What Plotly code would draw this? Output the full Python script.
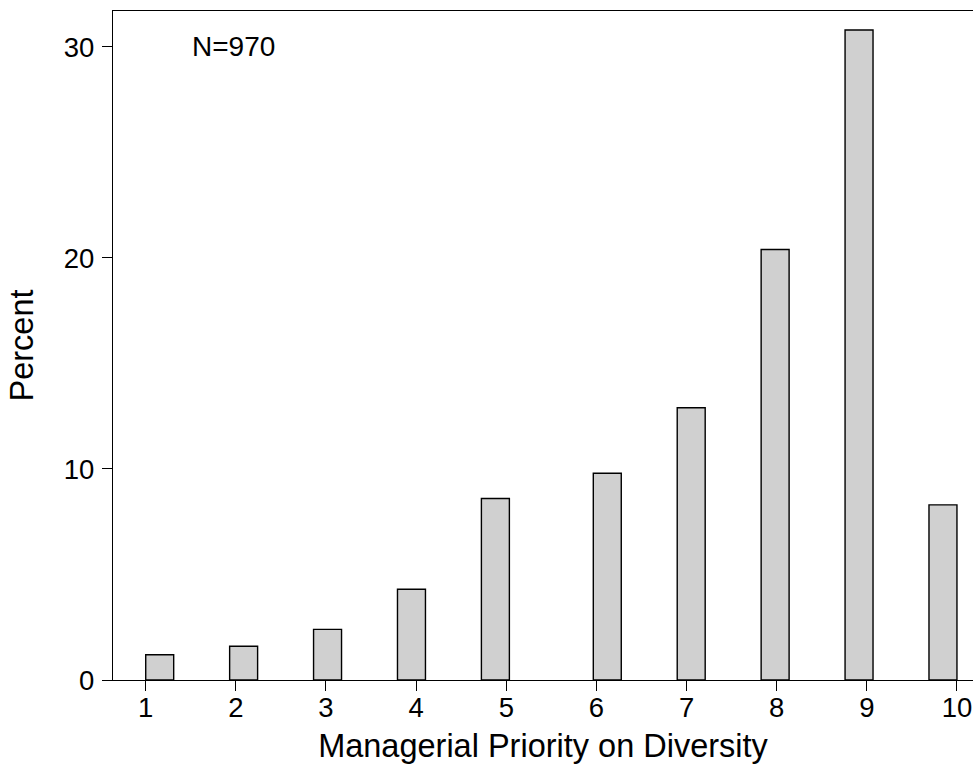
import plotly.graph_objects as go

# Data (percent of N=970 respondents per score)
scores = [1, 2, 3, 4, 5, 6, 7, 8, 9, 10]
percent = [1.2, 1.6, 2.4, 4.3, 8.6, 9.8, 12.9, 20.4, 30.8, 8.3]
x_ticks = [1, 2, 3, 4, 5, 6, 7, 8, 9, 10]
y_ticks = [0, 10, 20, 30]

# Histogram binning (29 bins from min to max, as in the source)
n_bins = 29
lo, hi = min(scores), max(scores)
bw = (hi - lo) / n_bins
centers = []
for s in scores:
    k = min(int((s - lo) / bw + 1e-9), n_bins - 1)
    centers.append(lo + (k + 0.5) * bw)

FONT = "Liberation Sans, Arial, Helvetica, sans-serif"

fig = go.Figure(
    go.Bar(
        x=centers,
        y=percent,
        width=bw,
        marker=dict(color="#d0d0d0", line=dict(color="black", width=1.4)),
    )
)

fig.add_annotation(
    x=1.49, y=30, xref="x", yref="y", text="N=970", showarrow=False,
    xanchor="left", yanchor="middle", font=dict(size=28, color="black", family=FONT),
)

fig.update_layout(
    width=973, height=768,
    margin=dict(l=113, r=0, t=11, b=88),
    paper_bgcolor="white", plot_bgcolor="white",
    showlegend=False,
    font=dict(family=FONT, color="black", size=28),
    xaxis=dict(
        range=[0.637, 10.178],
        tickmode="array", tickvals=x_ticks, ticktext=[str(v) for v in x_ticks],
        ticks="outside", ticklen=10, tickwidth=1.4, tickcolor="black",
        showline=True, linecolor="black", linewidth=1.4, mirror=True,
        showgrid=False, zeroline=False,
        tickfont=dict(size=27.5),
        ticklabelstandoff=-7,
        title=dict(text="Managerial Priority on Diversity", font=dict(size=32.5), standoff=12),
    ),
    yaxis=dict(
        range=[0, 31.7],
        tickmode="array", tickvals=y_ticks, ticktext=[str(v) for v in y_ticks],
        ticks="outside", ticklen=10, tickwidth=1.4, tickcolor="black",
        showline=True, linecolor="black", linewidth=1.4, mirror=False,
        showgrid=False, zeroline=False,
        tickfont=dict(size=27.5),
        ticklabelstandoff=2,
        title=dict(text="Percent", font=dict(size=32.5), standoff=20),
    ),
)

fig.write_html(
    "out.html",
    config={"displayModeBar": False},
    post_script="document.body.style.margin='0';document.body.style.overflow='hidden';",
)
